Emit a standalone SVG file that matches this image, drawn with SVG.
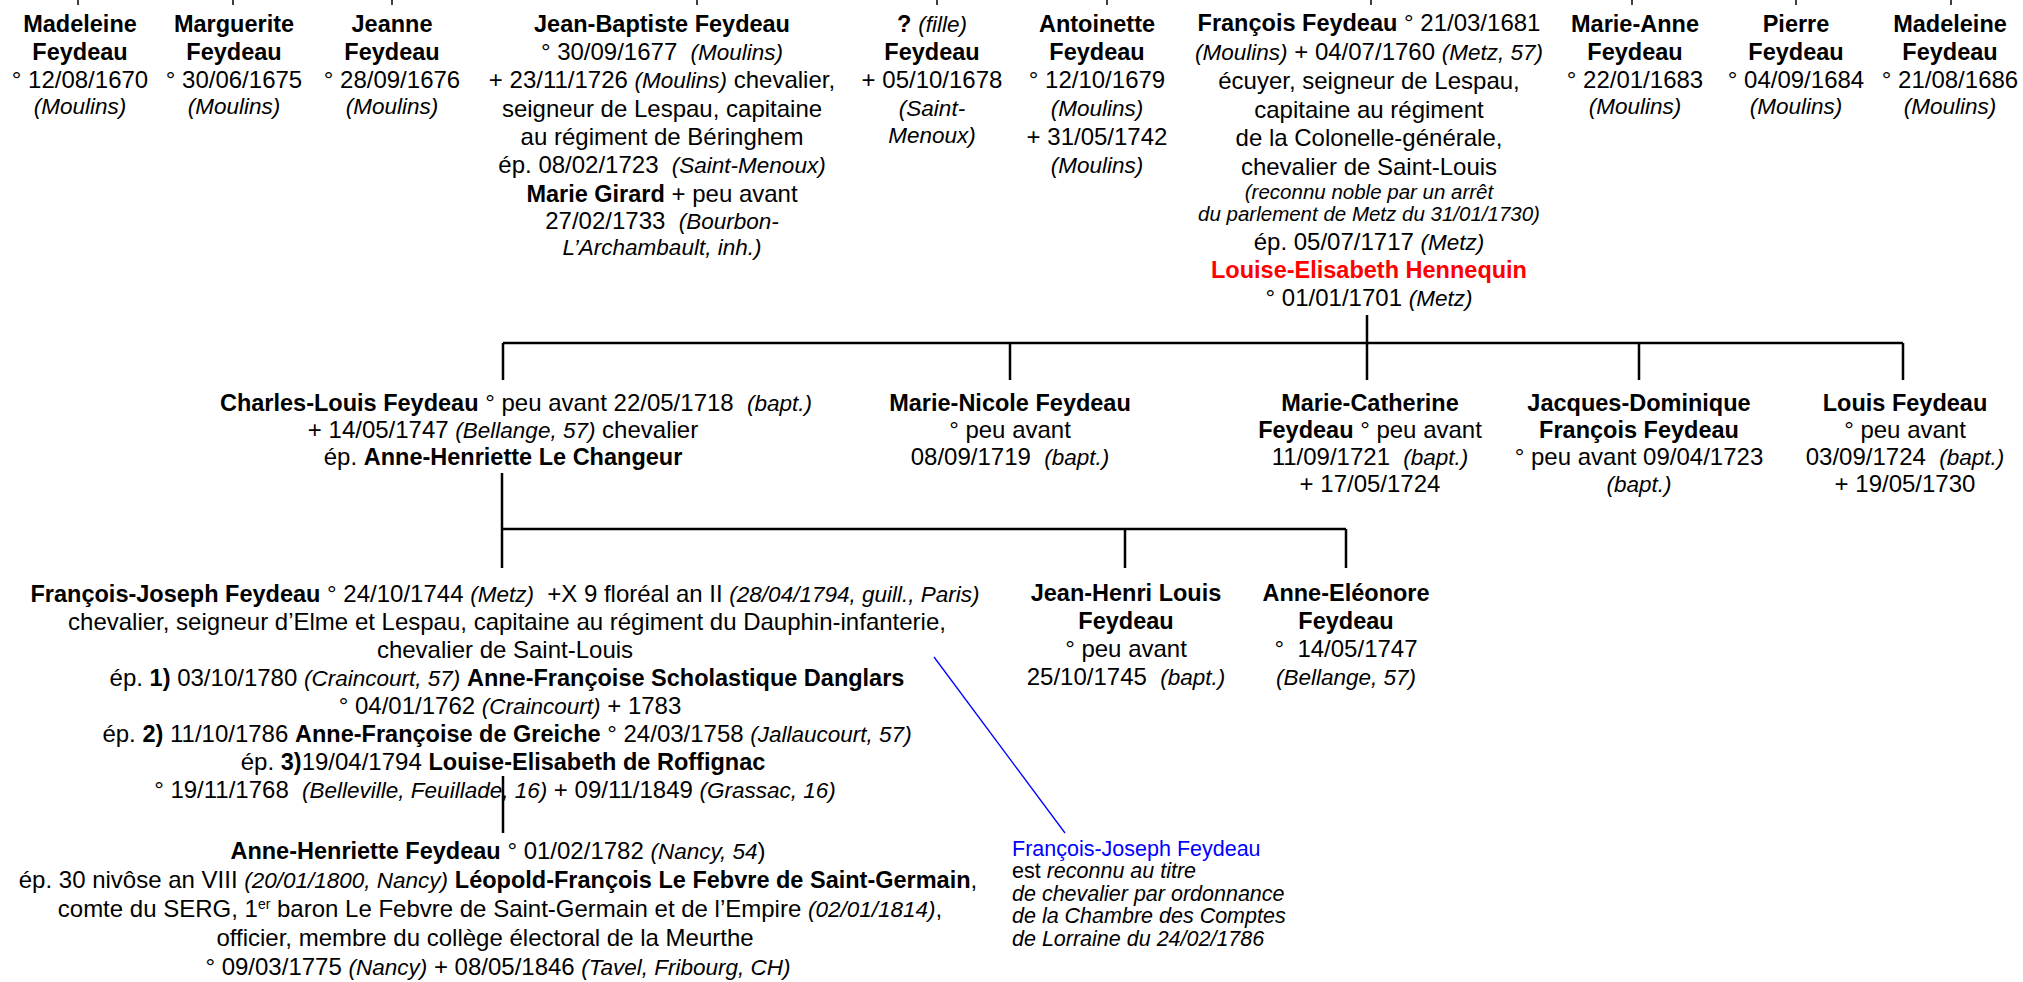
<svg xmlns="http://www.w3.org/2000/svg" width="2023" height="982" viewBox="0 0 2023 982">
<style>
text{font-family:"Liberation Sans",Arial,Helvetica,sans-serif;font-size:24px;fill:#000;text-anchor:middle}
.b{font-weight:bold;font-size:23.5px}
.i{font-style:italic;font-size:22.5px}
.s{font-style:italic;font-size:20.5px}
.red{fill:#FF0000}
.note{font-size:21.5px;text-anchor:start}
.blue{fill:#0000FF}
.ln{stroke:#000;stroke-width:2.5;fill:none}
.stub{stroke:#000;stroke-width:1.5;fill:none}
</style>
<rect width="2023" height="982" fill="#fff"/>
<g id="connectors">
<path class="stub" d="M78 0V5M233 0V5M392 0V5M697 0V5M937 0V5M1107 0V5M1371 0V5M1632 0V5M1796 0V5M1951 0V5"/>
<path class="ln" d="M503 343H1903M503 343V380M1010 343V380M1367 315V380M1639 343V380M1903 343V380"/>
<path class="ln" d="M502 529H1346M502 473V568M1125 529V568M1346 529V568"/>
<path class="ln" d="M503 776V833"/>
<path d="M934 657L1065 833" stroke="#0000FF" stroke-width="1.3" fill="none"/>
</g>
<g id="n-madeleine1">
<text x="80" y="32" class="b">Madeleine</text>
<text x="80" y="60" class="b">Feydeau</text>
<text x="80" y="88">° 12/08/1670</text>
<text x="80" y="114" class="i">(Moulins)</text>
</g>
<g id="n-marguerite">
<text x="234" y="32" class="b">Marguerite</text>
<text x="234" y="60" class="b">Feydeau</text>
<text x="234" y="88">° 30/06/1675</text>
<text x="234" y="114" class="i">(Moulins)</text>
</g>
<g id="n-jeanne">
<text x="392" y="32" class="b">Jeanne</text>
<text x="392" y="60" class="b">Feydeau</text>
<text x="392" y="88">° 28/09/1676</text>
<text x="392" y="114" class="i">(Moulins)</text>
</g>
<g id="n-jean-baptiste">
<text x="662" y="32" class="b">Jean-Baptiste Feydeau</text>
<text x="662" y="60" xml:space="preserve">° 30/09/1677  <tspan class="i">(Moulins)</tspan></text>
<text x="662" y="88">+ 23/11/1726 <tspan class="i">(Moulins)</tspan> chevalier,</text>
<text x="662" y="117">seigneur de Lespau, capitaine</text>
<text x="662" y="145">au régiment de Béringhem</text>
<text x="662" y="173" xml:space="preserve">ép. 08/02/1723  <tspan class="i">(Saint-Menoux)</tspan></text>
<text x="662" y="202"><tspan class="b">Marie Girard</tspan> + peu avant</text>
<text x="662" y="229" xml:space="preserve">27/02/1733  <tspan class="i">(Bourbon-</tspan></text>
<text x="662" y="255" class="i">L’Archambault, inh.)</text>
</g>
<g id="n-fille">
<text x="932" y="32"><tspan class="b">?</tspan> <tspan class="i">(fille)</tspan></text>
<text x="932" y="60" class="b">Feydeau</text>
<text x="932" y="88">+ 05/10/1678</text>
<text x="932" y="116" class="i">(Saint-</text>
<text x="932" y="143" class="i">Menoux)</text>
</g>
<g id="n-antoinette">
<text x="1097" y="32" class="b">Antoinette</text>
<text x="1097" y="60" class="b">Feydeau</text>
<text x="1097" y="88">° 12/10/1679</text>
<text x="1097" y="116" class="i">(Moulins)</text>
<text x="1097" y="145">+ 31/05/1742</text>
<text x="1097" y="173" class="i">(Moulins)</text>
</g>
<g id="n-francois">
<text x="1369" y="31"><tspan class="b">François Feydeau</tspan> ° 21/03/1681</text>
<text x="1369" y="60"><tspan class="i">(Moulins)</tspan> + 04/07/1760 <tspan class="i">(Metz, 57)</tspan></text>
<text x="1369" y="89">écuyer, seigneur de Lespau,</text>
<text x="1369" y="118">capitaine au régiment</text>
<text x="1369" y="146">de la Colonelle-générale,</text>
<text x="1369" y="175">chevalier de Saint-Louis</text>
<text x="1369" y="199" class="s">(reconnu noble par un arrêt</text>
<text x="1369" y="221" class="s">du parlement de Metz du 31/01/1730)</text>
<text x="1369" y="250">ép. 05/07/1717 <tspan class="i">(Metz)</tspan></text>
<text x="1369" y="278" class="b red">Louise-Elisabeth Hennequin</text>
<text x="1369" y="306">° 01/01/1701 <tspan class="i">(Metz)</tspan></text>
</g>
<g id="n-marie-anne">
<text x="1635" y="32" class="b">Marie-Anne</text>
<text x="1635" y="60" class="b">Feydeau</text>
<text x="1635" y="88">° 22/01/1683</text>
<text x="1635" y="114" class="i">(Moulins)</text>
</g>
<g id="n-pierre">
<text x="1796" y="32" class="b">Pierre</text>
<text x="1796" y="60" class="b">Feydeau</text>
<text x="1796" y="88">° 04/09/1684</text>
<text x="1796" y="114" class="i">(Moulins)</text>
</g>
<g id="n-madeleine2">
<text x="1950" y="32" class="b">Madeleine</text>
<text x="1950" y="60" class="b">Feydeau</text>
<text x="1950" y="88">° 21/08/1686</text>
<text x="1950" y="114" class="i">(Moulins)</text>
</g>
<g id="n-charles-louis">
<text x="516" y="411" xml:space="preserve"><tspan class="b">Charles-Louis Feydeau</tspan> ° peu avant 22/05/1718  <tspan class="i">(bapt.)</tspan></text>
<text x="503" y="438">+ 14/05/1747 <tspan class="i">(Bellange, 57)</tspan> chevalier</text>
<text x="503" y="465">ép. <tspan class="b">Anne-Henriette Le Changeur</tspan></text>
</g>
<g id="n-marie-nicole">
<text x="1010" y="411" class="b">Marie-Nicole Feydeau</text>
<text x="1010" y="438">° peu avant</text>
<text x="1010" y="465" xml:space="preserve">08/09/1719  <tspan class="i">(bapt.)</tspan></text>
</g>
<g id="n-marie-catherine">
<text x="1370" y="411" class="b">Marie-Catherine</text>
<text x="1370" y="438"><tspan class="b">Feydeau</tspan> ° peu avant</text>
<text x="1370" y="465" xml:space="preserve">11/09/1721  <tspan class="i">(bapt.)</tspan></text>
<text x="1370" y="492">+ 17/05/1724</text>
</g>
<g id="n-jacques-dominique">
<text x="1639" y="411" class="b">Jacques-Dominique</text>
<text x="1639" y="438" class="b">François Feydeau</text>
<text x="1639" y="465">° peu avant 09/04/1723</text>
<text x="1639" y="492" class="i">(bapt.)</text>
</g>
<g id="n-louis">
<text x="1905" y="411" class="b">Louis Feydeau</text>
<text x="1905" y="438">° peu avant</text>
<text x="1905" y="465" xml:space="preserve">03/09/1724  <tspan class="i">(bapt.)</tspan></text>
<text x="1905" y="492">+ 19/05/1730</text>
</g>
<g id="n-francois-joseph">
<text x="505" y="602" xml:space="preserve"><tspan class="b">François-Joseph Feydeau</tspan> ° 24/10/1744 <tspan class="i">(Metz)</tspan>  +X 9 floréal an II <tspan class="i">(28/04/1794, guill., Paris)</tspan></text>
<text x="507" y="630">chevalier, seigneur d’Elme et Lespau, capitaine au régiment du Dauphin-infanterie,</text>
<text x="505" y="658">chevalier de Saint-Louis</text>
<text x="507" y="686">ép. <tspan class="b">1)</tspan> 03/10/1780 <tspan class="i">(Craincourt, 57)</tspan> <tspan class="b">Anne-Françoise Scholastique Danglars</tspan></text>
<text x="510" y="714">° 04/01/1762 <tspan class="i">(Craincourt)</tspan> + 1783</text>
<text x="507" y="742">ép. <tspan class="b">2)</tspan> 11/10/1786 <tspan class="b">Anne-Françoise de Greiche</tspan> ° 24/03/1758 <tspan class="i">(Jallaucourt, 57)</tspan></text>
<text x="503" y="770">ép. <tspan class="b">3)</tspan>19/04/1794 <tspan class="b">Louise-Elisabeth de Roffignac</tspan></text>
<text x="495" y="798" xml:space="preserve">° 19/11/1768  <tspan class="i">(Belleville, Feuillade, 16)</tspan> + 09/11/1849 <tspan class="i">(Grassac, 16)</tspan></text>
</g>
<g id="n-jean-henri">
<text x="1126" y="601" class="b">Jean-Henri Louis</text>
<text x="1126" y="629" class="b">Feydeau</text>
<text x="1126" y="657">° peu avant</text>
<text x="1126" y="685" xml:space="preserve">25/10/1745  <tspan class="i">(bapt.)</tspan></text>
</g>
<g id="n-anne-eleonore">
<text x="1346" y="601" class="b">Anne-Eléonore</text>
<text x="1346" y="629" class="b">Feydeau</text>
<text x="1346" y="657" xml:space="preserve">°  14/05/1747</text>
<text x="1346" y="685" class="i">(Bellange, 57)</text>
</g>
<g id="n-anne-henriette">
<text x="498" y="859"><tspan class="b">Anne-Henriette Feydeau</tspan> ° 01/02/1782 <tspan class="i">(Nancy, 54</tspan>)</text>
<text x="498" y="888">ép. 30 nivôse an VIII <tspan class="i">(20/01/1800, Nancy)</tspan> <tspan class="b">Léopold-François Le Febvre de Saint-Germain</tspan>,</text>
<text x="500" y="917">comte du SERG, 1<tspan font-size="14" baseline-shift="super">er</tspan> baron Le Febvre de Saint-Germain et de l’Empire <tspan class="i">(02/01/1814)</tspan>,</text>
<text x="485" y="946">officier, membre du collège électoral de la Meurthe</text>
<text x="498" y="975">° 09/03/1775 <tspan class="i">(Nancy)</tspan> + 08/05/1846 <tspan class="i">(Tavel, Fribourg, CH)</tspan></text>
</g>
<g id="note">
<text x="1012" y="856" class="note blue">François-Joseph Feydeau</text>
<text x="1012" y="878" class="note">est <tspan font-style="italic">reconnu au titre</tspan></text>
<text x="1012" y="901" class="note" font-style="italic">de chevalier par ordonnance</text>
<text x="1012" y="923" class="note" font-style="italic">de la Chambre des Comptes</text>
<text x="1012" y="946" class="note" font-style="italic">de Lorraine du 24/02/1786</text>
</g>
</svg>
